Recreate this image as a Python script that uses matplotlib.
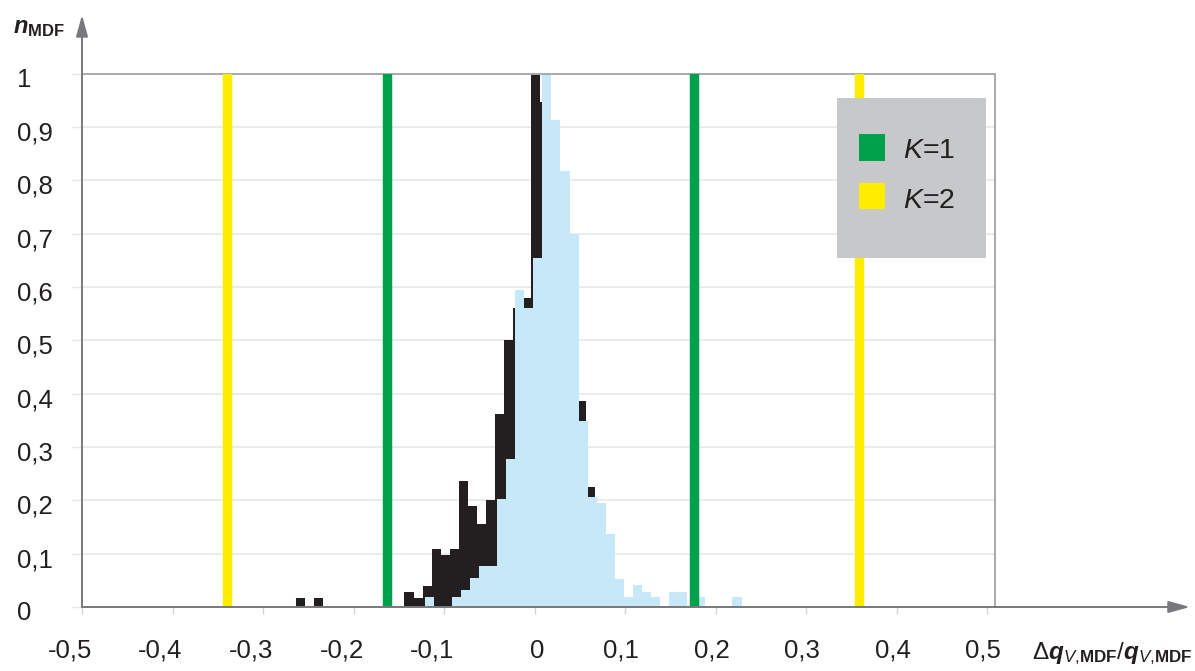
import numpy as np
import matplotlib
matplotlib.use("Agg")
import matplotlib.pyplot as plt
from matplotlib.patches import Rectangle
from matplotlib.transforms import ScaledTranslation

# relative frequency per 0.01 bin, all measurements (dark) and corrected ones (light)
black_x = [-0.26, -0.24, -0.14, -0.13, -0.12, -0.11, -0.10, -0.09, -0.08, -0.07,
           -0.06, -0.05, -0.04, -0.03, -0.02, -0.01, 0.00, 0.01, 0.02, 0.03,
           0.04, 0.05, 0.06, 0.07, 0.08]
black_n = [0.017, 0.017, 0.028, 0.017, 0.040, 0.109, 0.097, 0.109, 0.236, 0.190,
           0.156, 0.201, 0.362, 0.500, 0.560, 0.580, 1.000, 0.947, 0.760, 0.600,
           0.450, 0.386, 0.225, 0.120, 0.050]

blue_x = [-0.12, -0.09, -0.08, -0.07, -0.06, -0.05, -0.04, -0.03, -0.02, -0.01,
          0.00, 0.01, 0.02, 0.03, 0.04, 0.05, 0.06, 0.07, 0.08, 0.09,
          0.10, 0.11, 0.12, 0.13, 0.15, 0.16, 0.18, 0.22]
blue_n = [0.019, 0.019, 0.031, 0.054, 0.076, 0.076, 0.203, 0.277, 0.595, 0.560,
          0.654, 1.000, 0.913, 0.817, 0.700, 0.348, 0.206, 0.195, 0.136, 0.053,
          0.019, 0.041, 0.029, 0.019, 0.029, 0.029, 0.019, 0.019]

# the two histograms were binned with slightly different edges
black_shift = 0.0012
blue_shift = 0.0035
bin_width = 0.01

# coverage limits
k1_limits = [-0.163, 0.176]
k2_limits = [-0.340, 0.358]

x_ticks = [-0.5, -0.4, -0.3, -0.2, -0.1, 0.0, 0.1, 0.2, 0.3, 0.4, 0.5]
x_labels = ["-0,5", "-0,4", "-0,3", "-0,2", "-0,1", "0", "0,1", "0,2", "0,3", "0,4", "0,5"]
y_ticks = [0, 0.1, 0.2, 0.3, 0.4, 0.5, 0.6, 0.7, 0.8, 0.9, 1.0]
y_labels = ["0", "0,1", "0,2", "0,3", "0,4", "0,5", "0,6", "0,7", "0,8", "0,9", "1"]

GREEN = "#00a14b"
YELLOW = "#ffed00"
DARK = "#231f20"
LIGHT_BLUE = "#c6e8f8"
AXIS = "#77787b"
FRAME = "#a7a9ac"

plt.rcParams["font.family"] = ["Liberation Sans", "DejaVu Sans"]
plt.rcParams["mathtext.fontset"] = "custom"
plt.rcParams["mathtext.rm"] = "Liberation Sans"
plt.rcParams["mathtext.it"] = "Liberation Sans:italic"
plt.rcParams["mathtext.bf"] = "Liberation Sans:bold"
plt.rcParams["mathtext.bfit"] = "Liberation Sans:italic:bold"
plt.rcParams["mathtext.sf"] = "Liberation Sans"

W, H = 1195, 671
fig = plt.figure(figsize=(W / 100, H / 100), dpi=100)
ax = fig.add_axes([82 / W, 64 / H, 913 / W, 533.3 / H])

ax.bar(np.array(black_x) + black_shift, black_n, width=bin_width, color=DARK,
       linewidth=0, zorder=2)
ax.bar(np.array(blue_x) + blue_shift, blue_n, width=bin_width, color=LIGHT_BLUE,
       linewidth=0, zorder=2.1)

for x in k1_limits:
    ax.axvline(x, color=GREEN, lw=6.8, zorder=3)
for x in k2_limits:
    ax.axvline(x, color=YELLOW, lw=6.8, zorder=3)

ax.set_xlim(-0.5, 0.5085)
ax.set_ylim(0, 1)
ax.set_xticks(x_ticks)
ax.set_xticklabels(x_labels)
ax.set_yticks(y_ticks)
ax.set_yticklabels(y_labels)

ax.grid(axis="y", color="#e6e7e8", lw=1.2)
ax.set_axisbelow(True)

ax.tick_params(axis="x", length=5, width=1, color="#d1d3d4", pad=18,
               labelsize=18.5, labelcolor=DARK)
ax.tick_params(axis="y", length=7, width=1, color="#e6e7e8", pad=39.6,
               labelsize=18.5, labelcolor=DARK)

for lab in ax.get_yticklabels():
    lab.set_ha("left")
    lab.set_transform(lab.get_transform() + ScaledTranslation(0, -4 / 100, fig.dpi_scale_trans))
for lab, v in zip(ax.get_xticklabels(), x_ticks):
    dx = -12 if v < 0 else (3 if v == 0 else -4)
    lab.set_transform(lab.get_transform() + ScaledTranslation(dx / 100, 0, fig.dpi_scale_trans))

for side in ["top", "right"]:
    ax.spines[side].set_color(FRAME)
    ax.spines[side].set_linewidth(1.4)
for side in ["left", "bottom"]:
    ax.spines[side].set_visible(False)

# axes drawn as arrows running past the frame
arrow = dict(arrowstyle="-|>,head_length=1.3,head_width=0.36", color=AXIS, lw=1.4,
             shrinkA=0, shrinkB=0)
ax.annotate("", xy=(1.2135, 0), xytext=(0, 0), xycoords="axes fraction",
            arrowprops=arrow, annotation_clip=False)
ax.annotate("", xy=(0, 1.110), xytext=(0, 0), xycoords="axes fraction",
            arrowprops=arrow, annotation_clip=False)

# legend box
ax.add_patch(Rectangle((0.8266, 0.655), 0.1635, 0.299, transform=ax.transAxes,
                       facecolor="#c7c8ca", edgecolor="none", zorder=4, clip_on=False))
for y0, col, lab, yb in [(0.8363, GREEN, r"$\mathit{K}$=1", 0.8414),
                         (0.7457, YELLOW, r"$\mathit{K}$=2", 0.7489)]:
    ax.add_patch(Rectangle((0.8513, y0), 0.0285, 0.050, transform=ax.transAxes,
                           facecolor=col, edgecolor="none", zorder=5))
    ax.text(0.8989, yb, lab, transform=ax.transAxes, fontsize=20.5, color=DARK,
            va="baseline", ha="left", zorder=6)

fig.text(13 / W, 1 - 33 / H, r"$\mathbfit{n}_{\mathbf{MDF}}$", fontsize=17,
         color=DARK, va="baseline", ha="left")
fig.text(1031.7 / W, 12 / H,
         r"$\Delta\mathbfit{q}_{\mathit{V}\mathrm{,}\mathbf{MDF}}/\mathbfit{q}_{\mathit{V}\mathrm{,}\mathbf{MDF}}$",
         fontsize=17.5, color=DARK, va="baseline", ha="left")

fig.savefig("out.png", dpi=100)
